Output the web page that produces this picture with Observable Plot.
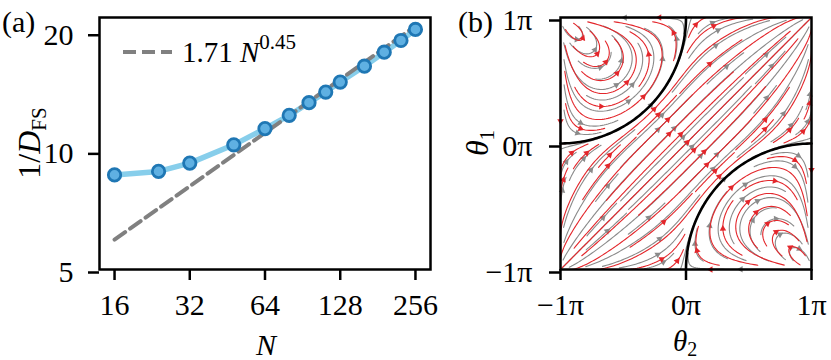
<!DOCTYPE html>
<html><head><meta charset="utf-8">
<script src="https://cdn.jsdelivr.net/npm/d3@7"></script>
<script src="https://cdn.jsdelivr.net/npm/@observablehq/plot@0.6"></script>
<style>
body{margin:0;background:#fff;}
#wrap{position:relative;width:831px;height:360px;overflow:hidden;background:#fff;}
#left{position:absolute;left:0;top:0;}
#right{position:absolute;left:440px;top:0;}
svg{overflow:visible;}
</style></head><body><div id="wrap"><div id="left"></div><div id="right"></div></div>
<script>
// ---------- data (panel a) ----------
const N = [16, 24, 32, 48, 64, 80, 96, 112, 128, 160, 192, 224, 256];
const invDFS = [8.69, 8.87, 9.31, 10.36, 11.39, 12.31, 13.25, 14.10, 14.95, 16.40, 17.80, 19.06, 20.33];
const fitCoef = 1.71, fitExp = 0.45;
const nTicks = [16, 32, 64, 128, 256];
const yTicksA = [5, 10, 20];
// ---------- panel b ----------
const thetaTicks = [-1, 0, 1];           // multiples of pi
const streamSets = [
  {name: "gray", color: "#8a8a8a", m: 2.6, blend: 0.40, bandPow: 0.55, density: 1.0, offset: true},
  {name: "red",  color: "#e3262b", m: 2.35, blend: 0.32, bandPow: 0.45, density: 1.05, offset: false}
];

const PI = Math.PI;
const FONT = "'Liberation Serif', 'DejaVu Serif', serif";

// vector field (theta2, theta1) -> (d theta2, d theta1)
function makeField(p) {
  const psi = (x, y) => {
    const u = x + PI, v = PI - y;
    const r = Math.hypot(u, v) + 1e-9;
    return u * v * (PI * PI - r * r) / Math.pow(r, p.m);
  };
  return (x, y) => {
    let X = x, Y = y;
    if (Math.hypot(x - PI, y + PI) < PI) { X = -x; Y = -y; }
    const d1 = Math.hypot(X + PI, Y - PI);
    if (d1 < PI) {
      const h = 1e-5;
      const gx = (psi(X + h, Y) - psi(X - h, Y)) / (2 * h);
      const gy = (psi(X, Y + h) - psi(X, Y - h)) / (2 * h);
      return [gy, -gx];
    }
    let bx = Math.pow(Math.max(0, Math.cos(x / 2)), p.bandPow);
    let by = Math.pow(Math.max(0, Math.cos(y / 2)), p.bandPow);
    const n = Math.hypot(bx, by);
    if (n < 1e-9) return [0, 0];
    bx /= n; by /= n;
    const e1 = Math.hypot(x + PI, y - PI), e2 = Math.hypot(x - PI, y + PI);
    const w1 = Math.min(1, Math.exp(-(e1 - PI) / p.blend));
    const w2 = Math.min(1, Math.exp(-(e2 - PI) / p.blend));
    const t1 = [-(y - PI) / e1, (x + PI) / e1];
    const t2 = [(y + PI) / e2, -(x - PI) / e2];
    return [(1 - w1) * (1 - w2) * bx + w1 * t1[0] + w2 * t2[0],
            (1 - w1) * (1 - w2) * by + w1 * t1[1] + w2 * t2[1]];
  };
}

function spiral(M) {
  const out = [];
  let xf = 0, yf = 1, xl = M - 1, yl = M - 1, x = 0, y = 0, dir = 0;
  for (let i = 0; i < M * M; i++) {
    out.push([x, y]);
    if (dir === 0) { x++; if (x >= xl) { xl--; dir = 1; } }
    else if (dir === 1) { y++; if (y >= yl) { yl--; dir = 2; } }
    else if (dir === 2) { x--; if (x <= xf) { xf++; dir = 3; } }
    else { y--; if (y <= yf) { yf++; dir = 0; } }
  }
  return out;
}

function streamplot(F, density, offset) {
  const M = Math.round(30 * density);
  const mask = new Uint8Array(M * M);
  const vel = (sx, sy) => {
    const v = F(-PI + sx * 2 * PI, -PI + sy * 2 * PI);
    const n = Math.hypot(v[0], v[1]);
    if (!(n > 1e-9)) return null;
    return [v[0] / n, v[1] / n];
  };
  const cell = offset ? (s => Math.min(M - 1, Math.floor(s * M))) : (s => Math.round(s * (M - 1)));
  const seed = offset ? (c => (c + 0.5) / M) : (c => c / (M - 1));
  const lines = [];
  const maxLen = 2.0, minLen = 0.1, h = 0.25 / M;
  for (const [cx, cy] of spiral(M)) {
    if (mask[cy * M + cx]) continue;
    const sx0 = seed(cx), sy0 = seed(cy);
    const traj = [cy * M + cx];
    mask[cy * M + cx] = 1;
    const integ = (dir) => {
      let x = sx0, y = sy0, cur = cy * M + cx, len = 0;
      const pts = [];
      while (len < maxLen) {
        const v1 = vel(x, y); if (!v1) break;
        const xm = x + 0.5 * h * dir * v1[0], ym = y + 0.5 * h * dir * v1[1];
        if (xm < 0 || xm > 1 || ym < 0 || ym > 1) break;
        const v2 = vel(xm, ym); if (!v2) break;
        const nx = x + h * dir * v2[0], ny = y + h * dir * v2[1];
        if (nx < 0 || nx > 1 || ny < 0 || ny > 1) break;
        const c = cell(ny) * M + cell(nx);
        if (c !== cur) {
          if (mask[c]) break;
          mask[c] = 1; traj.push(c); cur = c;
        }
        x = nx; y = ny; pts.push([x, y]); len += h;
      }
      return {pts, len};
    };
    const b = integ(-1);
    const f = integ(1);
    if (b.len + f.len < minLen) { for (const c of traj) mask[c] = 0; continue; }
    lines.push(b.pts.reverse().concat([[sx0, sy0]], f.pts));
  }
  return lines;
}

const streamPts = {}, streamArrows = {};
for (const s of streamSets) {
  const lines = streamplot(makeField(s), s.density, s.offset);
  const pts = [], arr = [];
  lines.forEach((L, id) => {
    for (const [sx, sy] of L) pts.push({x: -1 + 2 * sx, y: -1 + 2 * sy, id});
    const cum = [0];
    for (let i = 1; i < L.length; i++) cum.push(cum[i - 1] + Math.hypot(L[i][0] - L[i - 1][0], L[i][1] - L[i - 1][1]));
    const tot = cum[cum.length - 1];
    let n = cum.findIndex(c => c >= tot / 2);
    if (n >= L.length - 1) n = L.length - 2;
    if (n < 0) return;
    const dx = L[n + 1][0] - L[n][0], dy = L[n + 1][1] - L[n][1];
    arr.push({x: -1 + 2 * (L[n][0] + L[n + 1][0]) / 2, y: -1 + 2 * (L[n][1] + L[n + 1][1]) / 2,
              a: Math.atan2(dx, dy) * 180 / PI});
  });
  streamPts[s.name] = pts; streamArrows[s.name] = arr;
}

const arcT = d3.range(0, 91, 1).map(d => d * PI / 180);
const arc1 = arcT.map(t => ({x: -1 + Math.cos(t), y: 1 - Math.sin(t)}));
const arc2 = arcT.map(t => ({x: 1 - Math.cos(t), y: -1 + Math.sin(t)}));

// ---------- panel (a) ----------
const dataA = N.map((n, i) => ({N: n, v: invDFS[i]}));
const fitLine = [N[0], N[N.length - 1]].map(n => ({N: n, v: fitCoef * Math.pow(n, fitExp)}));

const left = Plot.plot({
  width: 440, height: 360, marginLeft: 99, marginRight: 10, marginTop: 17, marginBottom: 91,
  style: {fontFamily: FONT, fontSize: "30px", background: "transparent", color: "black"},
  x: {type: "log", domain: [16 * Math.pow(2, -0.2), 256 * Math.pow(2, 0.2)]},
  y: {type: "log", domain: [5, 21.8]},
  marks: [
    Plot.line(dataA, {x: "N", y: "v", stroke: "#87ceeb", strokeWidth: 5.5}),
    Plot.line(fitLine, {x: "N", y: "v", stroke: "#808080", strokeWidth: 4, strokeDasharray: "13 6"}),
    Plot.dot(dataA, {x: "N", y: "v", r: 6.2, fill: "#5fb0e2", stroke: "#1f77b4", strokeWidth: 2.8}),
    Plot.frame({stroke: "black", strokeWidth: 2.5}),
    Plot.axisX({ticks: nTicks, tickFormat: d => String(d), tickSize: 11, tickPadding: 13, strokeWidth: 2.5, label: null, fontSize: 30}),
    Plot.axisY({ticks: yTicksA, tickFormat: d => String(d), tickSize: 11, tickPadding: 15, strokeWidth: 2.5, label: null, fontSize: 30, dy: 3})
  ]
});
document.getElementById("left").appendChild(left);

// ---------- panel (b) ----------
const piFmt = d => (d < 0 ? "\u2212" : "") + Math.abs(d) + "\u03c0";
const right = Plot.plot({
  width: 391, height: 360, marginLeft: 120, marginRight: 20, marginTop: 17, marginBottom: 91,
  style: {fontFamily: FONT, fontSize: "30px", background: "transparent", color: "black"},
  x: {domain: [-1, 1]}, y: {domain: [-1, 1]},
  marks: [
    ...streamSets.flatMap(s => [
      Plot.line(streamPts[s.name], {x: "x", y: "y", z: "id", stroke: s.color, strokeWidth: 1.1}),
      Plot.dot(streamArrows[s.name], {x: "x", y: "y", rotate: "a", symbol: "triangle", r: 2.4, fill: s.color, stroke: null})
    ]),
    Plot.line(arc1, {x: "x", y: "y", stroke: "black", strokeWidth: 2.6}),
    Plot.line(arc2, {x: "x", y: "y", stroke: "black", strokeWidth: 2.6}),
    Plot.frame({stroke: "black", strokeWidth: 2.5}),
    Plot.axisX({ticks: thetaTicks, tickFormat: piFmt, tickSize: 11, tickPadding: 13, strokeWidth: 2.5, label: null, fontSize: 30}),
    Plot.axisY({ticks: thetaTicks, tickFormat: piFmt, tickSize: 11, tickPadding: 17, strokeWidth: 2.5, label: null, fontSize: 30, dy: 3})
  ]
});
document.getElementById("right").appendChild(right);

// ---------- labels ----------
function addText(svg, x, y, parts, opts = {}) {
  const t = d3.select(svg).append("text")
    .attr("transform", `translate(${x},${y})` + (opts.rotate ? ` rotate(${opts.rotate})` : ""))
    .attr("text-anchor", opts.anchor || "start")
    .attr("font-family", FONT).attr("font-size", opts.size || 30).attr("fill", "black");
  for (const p of parts) {
    const s = t.append("tspan").text(p.t);
    if (p.i) s.attr("font-style", "italic");
    if (p.s) s.attr("font-size", p.s);
    if (p.dy) s.attr("dy", p.dy);
  }
  return t;
}
addText(left, 2, 32, [{t: "(a)"}]);
addText(left, 40, 143, [{t: "1/"}, {t: "D", i: 1}, {t: "FS", s: 21, dy: 6}], {rotate: -90, anchor: "middle", size: 32});
addText(left, 266, 355, [{t: "N", i: 1}], {anchor: "middle", size: 30});
// legend
d3.select(left).append("line").attr("x1", 123).attr("x2", 172).attr("y1", 52).attr("y2", 52)
  .attr("stroke", "#808080").attr("stroke-width", 4).attr("stroke-dasharray", "13 6");
addText(left, 182, 62, [{t: fitCoef.toFixed(2) + " "}, {t: "N", i: 1}, {t: String(fitExp), s: 21, dy: -13}], {size: 29});

addText(right, 18, 32, [{t: "(b)"}]);
addText(right, 48, 143, [{t: "\u03b8", i: 1}, {t: "1", s: 21, dy: 6}], {rotate: -90, anchor: "middle", size: 32});
addText(right, 245, 351, [{t: "\u03b8", i: 1}, {t: "2", s: 20, dy: 5}], {anchor: "middle", size: 29});
</script></body></html>
